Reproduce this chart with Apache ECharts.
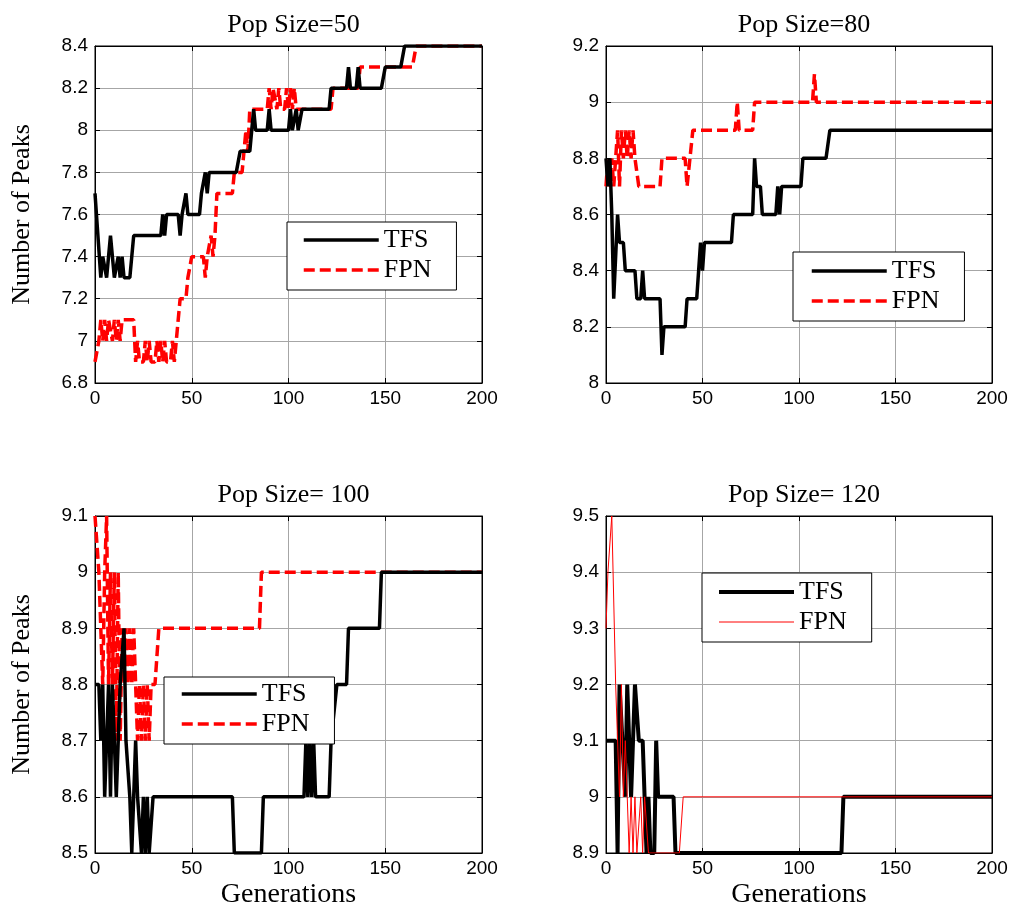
<!DOCTYPE html>
<html><head><meta charset="utf-8">
<script src="https://cdn.jsdelivr.net/npm/echarts@6/dist/echarts.min.js"></script>
<style>html,body{margin:0;padding:0;background:#fff}#c{width:1015px;height:911px}</style>
</head><body><div id="c"></div>
<script>
// ---- data: [generation, number of peaks] ----
const xTickValues = [0, 50, 100, 150, 200];
const titles = ['Pop Size=50', 'Pop Size=80', 'Pop Size= 100', 'Pop Size= 120'];
const legendNames = ['TFS', 'FPN'];

const tfs50 = [[0,7.7],[1,7.7],[3,7.3],[4,7.4],[5,7.4],[6,7.3],[7,7.3],[8,7.5],[9,7.5],[10,7.3],[11,7.3],[12,7.4],[13,7.3],[14,7.4],[15,7.3],[18,7.3],[19,7.4],[20,7.5],[34,7.5],[35,7.6],[36,7.5],[37,7.6],[43,7.6],[44,7.5],[45,7.6],[47,7.7],[48,7.6],[54,7.6],[55,7.7],[56,7.7],[57,7.8],[58,7.7],[59,7.8],[73,7.8],[75,7.9],[80,7.9],[81,8.0],[82,8.1],[83,8.0],[89,8.0],[90,8.1],[91,8.0],[100,8.0],[101,8.1],[102,8.0],[104,8.1],[105,8.0],[106,8.0],[107,8.1],[121,8.1],[122,8.2],[130,8.2],[131,8.3],[132,8.2],[135,8.2],[136,8.3],[137,8.2],[148,8.2],[150,8.3],[158,8.3],[160,8.4],[200,8.4]];
const fpn50 = [[0,6.9],[1,6.9],[2,7.0],[3,7.1],[4,7.0],[5,7.1],[6,7.0],[7,7.1],[8,7.1],[9,7.0],[10,7.1],[11,7.0],[12,7.1],[13,7.0],[14,7.1],[20,7.1],[21,6.9],[22,7.0],[23,6.9],[25,6.9],[26,7.0],[27,6.9],[28,7.0],[29,6.9],[31,6.9],[32,7.0],[33,6.9],[34,7.0],[35,6.9],[36,7.0],[37,6.9],[39,6.9],[40,7.0],[41,6.9],[42,7.0],[44,7.2],[47,7.2],[48,7.3],[49,7.3],[50,7.4],[56,7.4],[57,7.3],[58,7.4],[60,7.5],[61,7.4],[62,7.5],[63,7.7],[71,7.7],[72,7.8],[76,7.8],[77,7.9],[78,8.0],[79,7.9],[80,8.1],[89,8.1],[90,8.2],[91,8.1],[92,8.2],[93,8.2],[94,8.1],[95,8.2],[96,8.1],[98,8.1],[99,8.2],[100,8.1],[101,8.2],[102,8.1],[103,8.2],[104,8.1],[122,8.1],[123,8.2],[136,8.2],[137,8.3],[164,8.3],[166,8.4],[200,8.4]];

const tfs80 = [[0,8.8],[1,8.7],[2,8.8],[3,8.6],[4,8.3],[5,8.3],[6,8.6],[7,8.5],[9,8.5],[10,8.4],[15,8.4],[16,8.3],[18,8.3],[19,8.4],[20,8.3],[28,8.3],[29,8.1],[30,8.2],[41,8.2],[42,8.3],[47,8.3],[48,8.4],[49,8.5],[50,8.4],[51,8.5],[65,8.5],[66,8.6],[76,8.6],[77,8.8],[78,8.7],[80,8.7],[81,8.6],[88,8.6],[89,8.7],[90,8.6],[91,8.7],[101,8.7],[102,8.8],[114,8.8],[116,8.9],[200,8.9]];
const fpn80 = [[0,8.7],[1,8.8],[2,8.7],[3,8.8],[4,8.7],[5,8.8],[6,8.9],[7,8.7],[8,8.9],[9,8.8],[10,8.9],[11,8.8],[12,8.9],[13,8.8],[14,8.9],[15,8.8],[16,8.8],[17,8.7],[28,8.7],[29,8.8],[41,8.8],[42,8.7],[43,8.7],[45,8.9],[67,8.9],[68,9.0],[69,8.9],[76,8.9],[77,9.0],[107,9.0],[108,9.1],[109,9.0],[200,9.0]];

const tfs100 = [[0,8.8],[2,8.8],[3,8.7],[4,8.8],[5,8.6],[6,8.6],[7,8.8],[8,8.6],[9,8.8],[10,8.7],[11,8.6],[12,8.7],[13,8.8],[14,8.8],[15,8.9],[16,8.7],[17,8.7],[18,8.6],[19,8.5],[20,8.5],[21,8.7],[22,8.6],[23,8.6],[24,8.5],[25,8.6],[26,8.5],[27,8.6],[28,8.5],[29,8.5],[30,8.6],[71,8.6],[72,8.5],[86,8.5],[87,8.6],[108,8.6],[109,8.7],[110,8.6],[111,8.7],[112,8.6],[113,8.7],[114,8.6],[121,8.6],[122,8.7],[123,8.7],[125,8.8],[130,8.8],[131,8.9],[147,8.9],[148,9.0],[200,9.0]];
const fpn100 = [[0,9.1],[1,9.1],[2,9.0],[3,9.0],[4,8.8],[5,9.0],[6,9.1],[7,8.8],[8,9.0],[9,8.8],[10,9.0],[11,8.7],[12,9.0],[13,8.7],[14,8.9],[15,8.8],[16,8.9],[17,8.8],[18,8.9],[19,8.8],[20,8.9],[21,8.8],[22,8.7],[23,8.8],[24,8.7],[25,8.8],[26,8.7],[27,8.8],[28,8.7],[29,8.8],[31,8.8],[33,8.9],[85,8.9],[86,9.0],[200,9.0]];

const tfs120 = [[0,9.1],[5,9.1],[6,8.9],[7,9.2],[8,9.2],[10,9.0],[11,9.2],[13,9.0],[14,9.0],[15,9.2],[16,9.2],[17,9.1],[19,9.1],[20,9.0],[21,8.9],[22,9.0],[23,8.9],[25,8.9],[26,9.1],[27,9.0],[35,9.0],[36,8.9],[122,8.9],[123,9.0],[200,9.0]];
const fpn120 = [[0,9.3],[1,9.4],[2,9.4],[3,9.5],[5,9.2],[6,9.2],[7,9.0],[8,9.2],[9,9.0],[10,9.1],[11,9.0],[12,8.9],[13,9.0],[14,8.9],[15,9.0],[16,8.9],[17,8.9],[18,9.0],[19,8.9],[20,9.0],[21,9.0],[22,8.9],[38,8.9],[40,9.0],[200,9.0]];

const yRanges = [[6.8, 8.4, 0.2], [8, 9.2, 0.2], [8.5, 9.1, 0.1], [8.9, 9.5, 0.1]];

// ---- layout ----
const grids = [
  {left: 95, top: 46, width: 387, height: 337},
  {left: 606, top: 46, width: 386, height: 337},
  {left: 95, top: 516, width: 387, height: 337},
  {left: 606, top: 516, width: 386, height: 337}
];
const legendPos = [
  {left: 287, top: 222, padding: [4, 25, 6, 15]},
  {left: 793, top: 252, padding: [5, 25, 6, 17]},
  {left: 164, top: 677, padding: [3, 25, 6, 16]},
  {left: 702, top: 573, padding: [5, 25, 6, 15]}
];
const seriesData = [[tfs50, fpn50], [tfs80, fpn80], [tfs100, fpn100], [tfs120, fpn120]];

const SERIF = 'Liberation Serif';
const SANS = 'Liberation Sans';
const tick = {inside: true, length: 5, lineStyle: {color: '#000', width: 1}};
const axLine = {onZero: false, lineStyle: {color: '#000', width: 1}};
const split = {show: true, lineStyle: {color: '#a6a6a6', width: 1}};

const option = {
  animation: false,
  backgroundColor: '#fff',
  title: [], grid: [], xAxis: [], yAxis: [], series: [], legend: []
};

for (let i = 0; i < 4; i++) {
  const g = grids[i];
  option.grid.push(Object.assign({show: true, borderColor: '#000', borderWidth: 1, backgroundColor: '#fff'}, g));
  option.title.push({
    text: titles[i], left: g.left + g.width / 2, textAlign: 'center', top: g.top - 39,
    textStyle: {fontFamily: SERIF, fontSize: 26, fontWeight: 'normal', color: '#000'}
  });
  const bottomRow = i >= 2;
  option.xAxis.push({
    type: 'value', gridIndex: i, min: 0, max: 200, interval: 50, position: 'bottom',
    axisLine: axLine, axisTick: tick, splitLine: split,
    axisLabel: {color: '#000', fontFamily: SANS, fontSize: 19, margin: 6},
    name: bottomRow ? 'Generations' : '', nameLocation: 'middle', nameGap: 28,
    nameTextStyle: {fontFamily: SERIF, fontSize: 28, color: '#000'}
  });
  option.xAxis.push({
    type: 'value', gridIndex: i, min: 0, max: 200, interval: 50, position: 'top',
    axisLine: axLine, axisTick: tick, splitLine: {show: false}, axisLabel: {show: false}
  });
  const yr = yRanges[i];
  const leftCol = i % 2 === 0;
  option.yAxis.push({
    type: 'value', gridIndex: i, min: yr[0], max: yr[1], interval: yr[2], position: 'left',
    axisLine: axLine, axisTick: tick, splitLine: split,
    axisLabel: {color: '#000', fontFamily: SANS, fontSize: 19, margin: 7},
    name: leftCol ? 'Number of Peaks' : '', nameLocation: 'middle', nameGap: 60,
    nameTextStyle: {fontFamily: SERIF, fontSize: 26, color: '#000'}
  });
  option.yAxis.push({
    type: 'value', gridIndex: i, min: yr[0], max: yr[1], interval: yr[2], position: 'right',
    axisLine: axLine, axisTick: tick, splitLine: {show: false}, axisLabel: {show: false}
  });
  const thin = i === 3;
  option.series.push({
    name: 'TFS', type: 'line', xAxisIndex: 2 * i, yAxisIndex: 2 * i,
    data: seriesData[i][0], symbol: 'none', showSymbol: false, z: 3,
    lineStyle: {color: '#000', width: thin ? 4 : 3.5, type: 'solid'}
  });
  option.series.push({
    name: 'FPN', type: 'line', xAxisIndex: 2 * i, yAxisIndex: 2 * i,
    data: seriesData[i][1], symbol: 'none', showSymbol: false, z: thin ? 4 : 2,
    lineStyle: thin ? {color: '#ff0000', width: 1, type: 'solid'} : {color: '#ff0000', width: 3.5, type: [11, 5]}
  });
  const lp = legendPos[i];
  option.legend.push({
    left: lp.left, top: lp.top, padding: lp.padding, orient: 'vertical',
    data: thin
      ? [{name: legendNames[0], lineStyle: {width: 4, type: 'solid', color: '#000'}},
         {name: legendNames[1], lineStyle: {width: 1, type: 'solid', color: '#ff0000'}}]
      : [{name: legendNames[0], lineStyle: {width: 3.5, type: 'solid', color: '#000'}},
         {name: legendNames[1], lineStyle: {width: 3.5, type: [11, 5], color: '#ff0000'}}],
    itemWidth: 75, itemHeight: 28, itemGap: 2,
    itemStyle: {opacity: 0},
    borderColor: '#000', borderWidth: 1, backgroundColor: '#fff', borderRadius: 0,
    selectedMode: false, z: 10,
    textStyle: {fontFamily: SERIF, fontSize: 26, color: '#000', lineHeight: 28}
  });
}

const chart = echarts.init(document.getElementById('c'), null, {renderer: 'canvas'});
chart.setOption(option);
</script></body></html>
